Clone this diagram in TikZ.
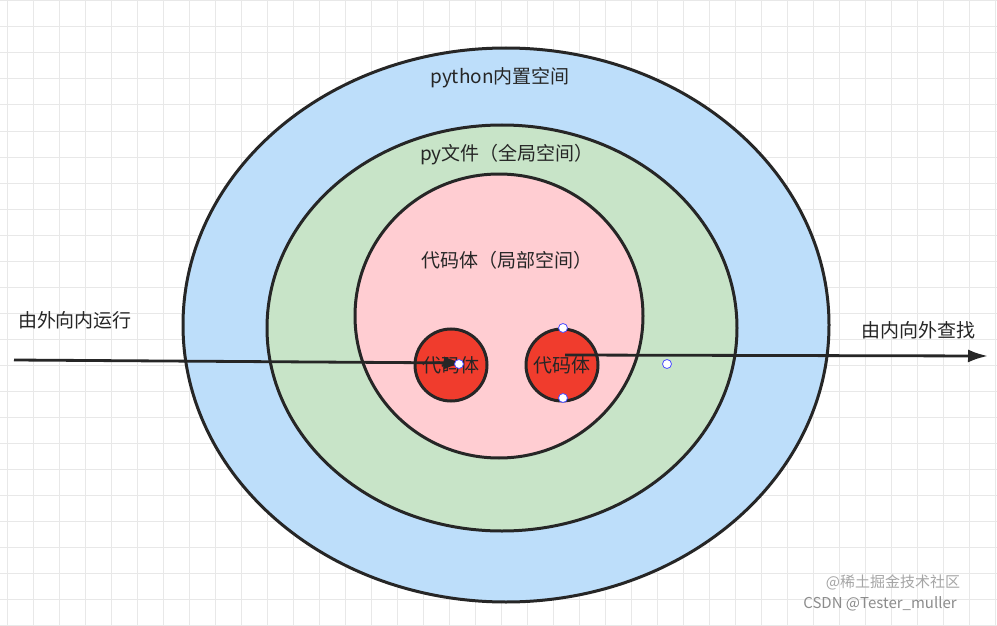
\documentclass[tikz,border=0pt]{standalone}
\usepackage{fontspec}
\usetikzlibrary{arrows.meta}
\setmainfont{Noto Sans CJK SC}
\begin{document}
\begin{tikzpicture}[x=1pt,y=-1pt,
  ring/.style={draw=black!85,line width=3pt},
  lab/.style={font=\fontsize{19}{22}\selectfont,text=black!85},
  handle/.style={circle,draw=blue!70,fill=white,inner sep=0pt,minimum size=9pt,line width=0.8pt},
  arr/.style={draw=black!85,line width=2.8pt,-{Latex[length=20pt,width=13pt]}}]
\useasboundingbox (0,0) rectangle (997,626);
\fill[white] (0,0) rectangle (997,626);
\foreach \i in {0,...,38} {\draw[black!9,line width=1pt] (7+26*\i,0) -- (7+26*\i,626);}
\foreach \i in {0,...,24} {\draw[black!9,line width=1pt] (0,1+26*\i) -- (997,1+26*\i);}
\draw[ring,fill={rgb,255:red,189;green,222;blue,250}] (506,325) ellipse [x radius=323,y radius=277];
\draw[ring,fill={rgb,255:red,200;green,228;blue,200}] (502,328) ellipse [x radius=235,y radius=203];
\draw[ring,fill={rgb,255:red,255;green,205;blue,210}] (499,316) ellipse [x radius=144,y radius=142];
\node[circle,ring,fill={rgb,255:red,240;green,60;blue,45},minimum size=72pt,inner sep=0pt,lab] (c1) at (451,365) {代码体};
\node[circle,ring,fill={rgb,255:red,240;green,60;blue,45},minimum size=72pt,inner sep=0pt,lab] (c2) at (562,365) {代码体};
\node[lab] (t1) at (500,78) {python内置空间};
\node[lab] (t2) at (507,155) {py文件（全局空间）};
\node[lab] (t3) at (507,260) {代码体（局部空间）};
\node[lab] (l) at (75,320) {由外向内运行};
\node[lab] (r) at (918,330) {由内向外查找};
\coordinate (a1) at (14,360);
\coordinate (a2) at (464,363);
\coordinate (b1) at (565,355);
\coordinate (b2) at (988,356);
\draw[arr] (a1) -- (a2);
\draw[arr] (b1) -- (b2);
\node[handle] (h1) at (459,364) {};
\node[handle] (h2) at (563,328) {};
\node[handle] (h3) at (563,398) {};
\node[handle] (h4) at (667,364) {};
\node[text=black!35,font=\fontsize{15}{17}\selectfont] (w1) at (893,582) {@稀土掘金技术社区};
\node[text=black!45,font=\fontsize{15}{17}\selectfont] (w2) at (880,604) {CSDN @Tester\_muller};
\end{tikzpicture}
\end{document}
